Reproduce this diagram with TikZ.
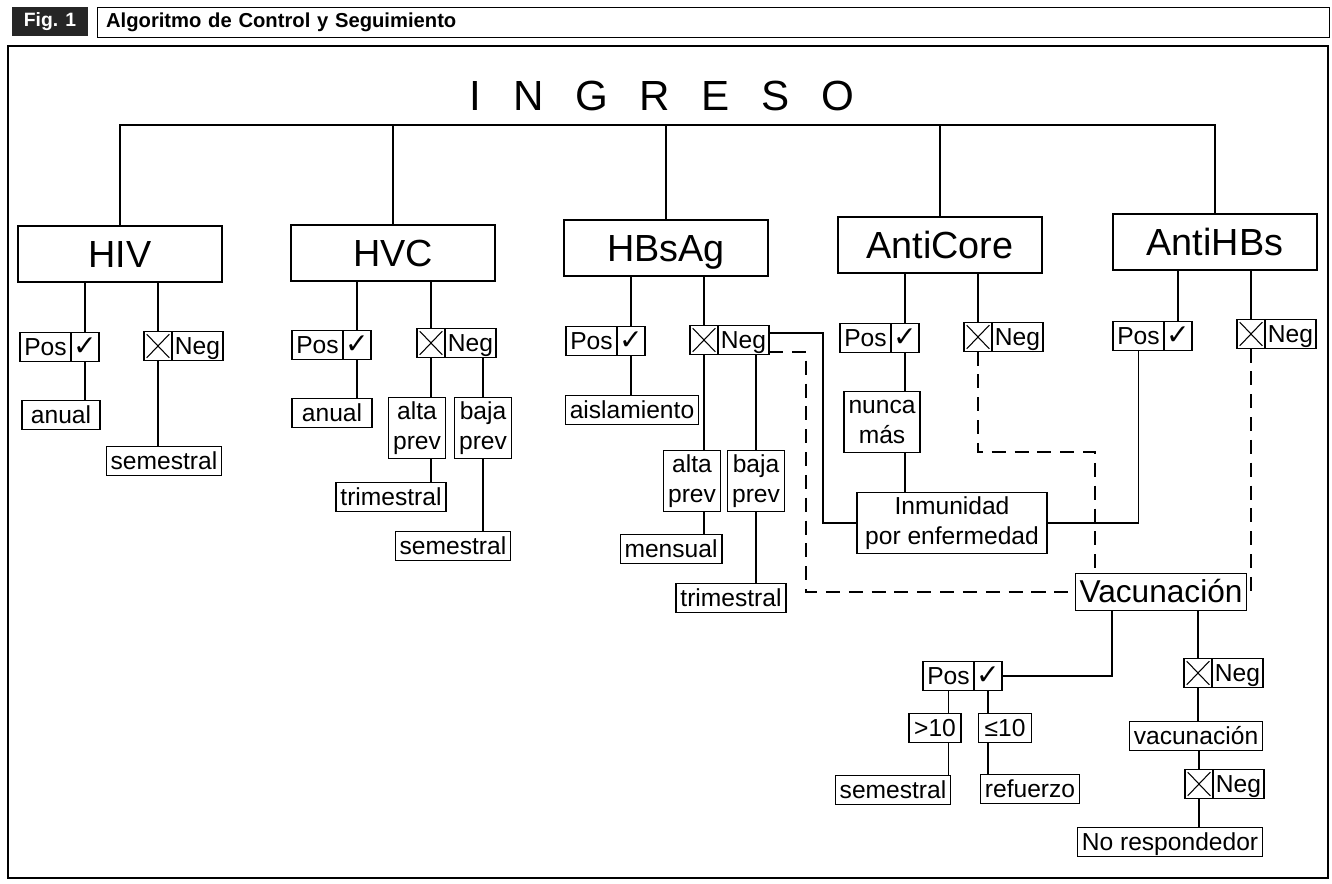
\documentclass[tikz,border=0pt]{standalone}
\usepackage{fontspec}
\setmainfont{Liberation Sans}
\newfontfamily\chkfont{DejaVu Sans}
\usepackage{tikz}
\usetikzlibrary{calc}
\usetikzlibrary{positioning}
\def\thickness{ultra thick}
\tikzset{
testbox/.style={draw, \thickness, minimum width=4.08cm, minimum height=1.12cm, text height=15.5pt, text depth=0pt, font=\fontsize{21.5}{24}\selectfont},
smallbox/.style={draw, line width=0.7pt, inner xsep=2.5pt, inner ysep=0pt, minimum height=0.58cm, text height=10.5pt, text depth=0.5pt, font=\fontsize{14}{16}\selectfont, align=center},
twoline/.style={smallbox, text height=27.5pt, text depth=3pt, inner ysep=2pt, font=\fontsize{14}{17}\selectfont},
wordcell/.style={smallbox, inner xsep=1.5pt, minimum width=1.02cm, outer sep=0pt},
signcell/.style={smallbox, inner xsep=1pt, minimum width=0.56cm, outer sep=0pt},
checkcell/.style={signcell, font=\chkfont\fontsize{16}{18}\selectfont},
crosscell/.style={signcell, path picture={
	\draw[line width=0.6pt] ([shift={(1.5pt,-1.5pt)}]path picture bounding box.north west) -- ([shift={(-1.5pt,1.5pt)}]path picture bounding box.south east);
	\draw[line width=0.6pt] ([shift={(-1.5pt,-1.5pt)}]path picture bounding box.north east) -- ([shift={(1.5pt,1.5pt)}]path picture bounding box.south west);
}},
wire/.style={line width=0.7pt},
dwire/.style={line width=0.7pt, dash pattern=on 8pt off 5pt},
}
\begin{document}
\begin{tikzpicture}[x=0.02cm, y=-0.02cm]
	\useasboundingbox (0,0) rectangle (1332,884);
	%
	\node[fill=black!85, text=white, font=\bfseries\fontsize{11}{13}\selectfont, minimum width=1.52cm, minimum height=0.5cm] (fig) at (50,21.5) {Fig. 1};
	\node[draw, line width=0.7pt, anchor=west, minimum width=24.64cm, minimum height=0.58cm, text width=24.3cm, align=left, font=\bfseries\fontsize{11.5}{13}\selectfont] (title) at (97,22.5) {Algoritmo de Control y Seguimiento};
	\draw[line width=0.8pt] (8,46) rectangle (1328,878);
	%
	\node[font=\fontsize{24}{28}\selectfont] (ingreso) at (662,96) {I\hspace{0.75em}N\hspace{0.75em}G\hspace{0.75em}R\hspace{0.75em}E\hspace{0.75em}S\hspace{0.75em}O};
	\coordinate (bus) at (666,125);
	%
	\node[testbox] (hiv) at (120,254) {HIV};
	\node[testbox] (hvc) at (393,253) {HVC};
	\node[testbox] (hbsag) at (666,248) {HBsAg};
	\node[testbox] (anticore) at (940,245) {AntiCore};
	\node[testbox] (antihbs) at (1215,242) {AntiHBs};
	
	\draw[wire] (hiv.north) -- (hiv.north |- bus) -- (antihbs.north |- bus) -- (antihbs.north);
	\draw[wire] (hvc.north) -- (hvc.north |- bus);
	\draw[wire] (hbsag.north) -- (hbsag.north |- bus);
	\draw[wire] (anticore.north) -- (anticore.north |- bus);
	
	% HIV
	\node[checkcell] (hivpc) at (85,347) {✓};
	\node[wordcell, left=0pt of hivpc] (hivpw) {Pos};
	\node[crosscell] (hivnx) at (158,346) {};
	\node[wordcell, right=0pt of hivnx] (hivnw) {Neg};
	\node[smallbox, minimum width=1.56cm] (hivanual) at (61,415) {anual};
	\node[smallbox] (hivsem) at (164,461) {semestral};
	
	\draw[wire] (hivpc.north) -- (hivpc.north |- hiv.south);
	\draw[wire] (hivnx.north) -- (hivnx.north |- hiv.south);
	\draw[wire] (hivpc.south) -- (hivpc.south |- hivanual.north);
	\draw[wire] (hivnx.south) -- (hivnx.south |- hivsem.north);
	
	% HVC
	\node[checkcell] (hvcpc) at (357,345) {✓};
	\node[wordcell, left=0pt of hvcpc] (hvcpw) {Pos};
	\node[crosscell] (hvcnx) at (431,343) {};
	\node[wordcell, right=0pt of hvcnx] (hvcnw) {Neg};
	\node[smallbox, minimum width=1.6cm] (hvcanual) at (332,413) {anual};
	\node[twoline] (hvcalta) at (417,428) {alta\\prev};
	\node[twoline] (hvcbaja) at (483,428) {baja\\prev};
	\node[smallbox] (hvctri) at (391,497) {trimestral};
	\node[smallbox] (hvcsem) at (453,546) {semestral};
	
	\draw[wire] (hvcpc.north) -- (hvcpc.north |- hvc.south);
	\draw[wire] (hvcnx.north) -- (hvcnx.north |- hvc.south);
	\draw[wire] (hvcpc.south) -- (hvcpc.south |- hvcanual.north);
	\draw[wire] (hvcnx.south) -- (hvcnx.south |- hvcalta.north);
	\draw[wire] (hvcbaja.north) -- (hvcbaja.north |- hvcnw.south);
	\draw[wire] (hvcnx.south |- hvcalta.south) -- (hvcnx.south |- hvctri.north);
	\draw[wire] (hvcbaja.south) -- (hvcbaja.south |- hvcsem.north);
	
	% HBsAg
	\node[checkcell] (hbsagpc) at (631,341) {✓};
	\node[wordcell, left=0pt of hbsagpc] (hbsagpw) {Pos};
	\node[crosscell] (hbsagnx) at (704,340) {};
	\node[wordcell, right=0pt of hbsagnx] (hbsagnw) {Neg};
	\node[smallbox] (aisla) at (632,410) {aislamiento};
	\node[twoline] (hbsagalta) at (692,481) {alta\\prev};
	\node[twoline] (hbsagbaja) at (756,481) {baja\\prev};
	\node[smallbox] (mensual) at (671,549) {mensual};
	\node[smallbox] (hbsagtri) at (731,598) {trimestral};
	
	\draw[wire] (hbsagpc.north) -- (hbsagpc.north |- hbsag.south);
	\draw[wire] (hbsagnx.north) -- (hbsagnx.north |- hbsag.south);
	\draw[wire] (hbsagpc.south) -- (hbsagpc.south |- aisla.north);
	\draw[wire] (hbsagnx.south) -- (hbsagnx.south |- hbsagalta.north);
	\draw[wire] (hbsagbaja.north) -- (hbsagbaja.north |- hbsagnw.south);
	\draw[wire] (hbsagnx.south |- hbsagalta.south) -- (hbsagnx.south |- mensual.north);
	\draw[wire] (hbsagbaja.south) -- (hbsagbaja.south |- hbsagtri.north);
	
	% AntiCore
	\node[checkcell] (acpc) at (905,338) {✓};
	\node[wordcell, left=0pt of acpc] (acpw) {Pos};
	\node[crosscell] (acnx) at (978,337) {};
	\node[wordcell, right=0pt of acnx] (acnw) {Neg};
	\node[twoline] (nunca) at (882,422) {nunca\\más};
	\node[twoline, minimum width=3.8cm] (inm) at (952,523) {Inmunidad\\por enfermedad};
	
	\draw[wire] (acpc.north) -- (acpc.north |- anticore.south);
	\draw[wire] (acnx.north) -- (acnx.north |- anticore.south);
	\draw[wire] (acpc.south) -- (acpc.south |- nunca.north);
	\draw[wire] (acpc.south |- nunca.south) -- (acpc.south |- inm.north);
	
	% AntiHBs
	\node[checkcell] (ahpc) at (1178,336) {✓};
	\node[wordcell, left=0pt of ahpc] (ahpw) {Pos};
	\node[crosscell] (ahnx) at (1251,334) {};
	\node[wordcell, right=0pt of ahnx] (ahnw) {Neg};
	
	\draw[wire] (ahpc.north) -- (ahpc.north |- antihbs.south);
	\draw[wire] (ahnx.north) -- (ahnx.north |- antihbs.south);
	
	% Vacunacion
	\node[smallbox, font=\fontsize{18}{20}\selectfont, minimum height=0.74cm, text height=13pt, text depth=0.5pt] (vac) at (1161,592) {Vacunación};
	\node[checkcell] (vacpc) at (988,676) {✓};
	\node[wordcell, left=0pt of vacpc] (vacpw) {Pos};
	\node[smallbox, minimum width=1.04cm] (gt) at (935,728) {>10};
	\node[smallbox, minimum width=1.06cm] (le) at (1005,728) {≤10};
	\node[smallbox] (sem3) at (893,790) {semestral};
	\node[smallbox] (refuerzo) at (1030,789) {refuerzo};
	\node[crosscell] (vacn1x) at (1198,673) {};
	\node[wordcell, right=0pt of vacn1x] (vacn1w) {Neg};
	\node[smallbox] (vac2) at (1196,736) {vacunación};
	\node[crosscell] (vacn2x) at (1199,784) {};
	\node[wordcell, right=0pt of vacn2x] (vacn2w) {Neg};
	\node[smallbox] (noresp) at (1170,842) {No respondedor};
	
	\coordinate (vacdrop) at (1112,0);
	\draw[wire] (vacpc.east) -| (vacdrop |- vac.south);
	\draw[wire] (vacpw.south) -- (vacpw.south |- gt.north);
	\draw[wire] (vacpw.south |- gt.south) -- (vacpw.south |- sem3.north);
	\draw[wire] (vacpc.south) -- (vacpc.south |- le.north);
	\draw[wire] (vacpc.south |- le.south) -- (vacpc.south |- refuerzo.north);
	\draw[wire] (vacn1x.north) -- (vacn1x.north |- vac.south);
	\draw[wire] (vacn1x.south) -- (vacn1x.south |- vac2.north);
	\draw[wire] (vacn2x.north) -- (vacn2x.north |- vac2.south);
	\draw[wire] (vacn2x.south) -- (vacn2x.south |- noresp.north);
	
	% cross links
	\coordinate (solidx) at (823,0);
	\coordinate (dashx) at (806,0);
	\coordinate (acbend) at (1095,452);
	\draw[wire] ($(hbsagnw.east)+(0,-7)$) -| (solidx |- inm.west) -- (inm.west);
	\draw[dwire] ($(hbsagnw.east)+(0,12)$) -| (dashx |- vac.west) -- (vac.west);
	\draw[dwire] (acnx.south) |- (acbend) -- (acbend |- vac.north);
	\draw[dwire] (ahnx.south) |- (vac.east);
	\draw[wire] (ahpw.south) |- (inm.east);
\end{tikzpicture}
\end{document}
